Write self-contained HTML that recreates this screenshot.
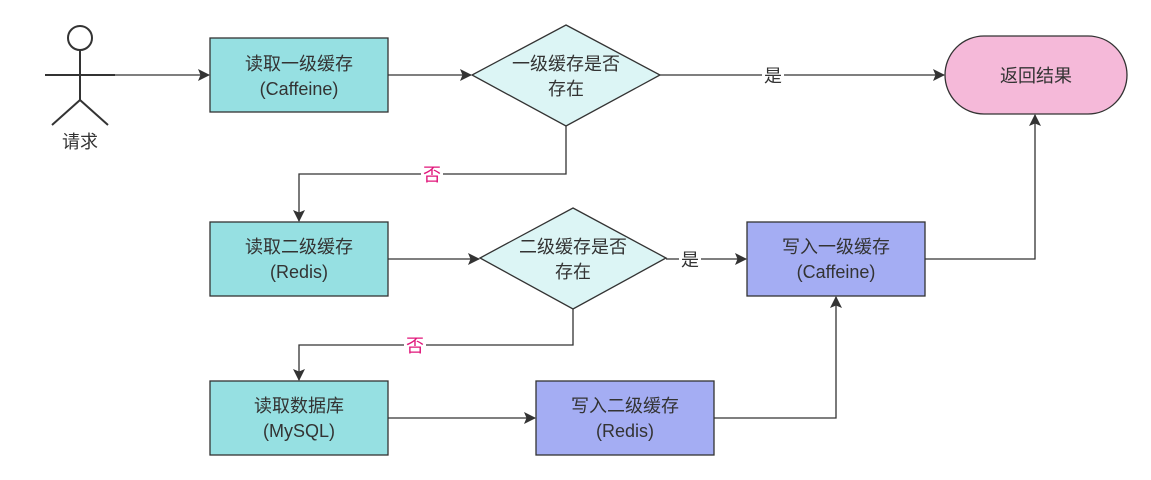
<!DOCTYPE html>
<html><head><meta charset="utf-8"><style>
html,body{margin:0;padding:0;background:#fff;}
svg{display:block;}
text{font-family:"Liberation Sans","Noto Sans CJK SC",sans-serif;font-size:18px;fill:#333;}
</style></head><body>
<svg width="1151" height="480" viewBox="0 0 1151 480" xmlns="http://www.w3.org/2000/svg">
<defs>
<marker id="a" markerWidth="12" markerHeight="12" refX="11" refY="6" orient="auto" markerUnits="userSpaceOnUse">
<path d="M0,0 L12,6 L0,12 L2.5,6 Z" fill="#333"/>
</marker>
</defs>
<g stroke="#333" stroke-width="2" fill="none">
<circle cx="80" cy="38" r="12"/>
<line x1="80" y1="50" x2="80" y2="100"/>
<line x1="45" y1="75" x2="115" y2="75"/>
<line x1="80" y1="100" x2="52" y2="125"/>
<line x1="80" y1="100" x2="108" y2="125"/>
</g>
<text x="80" y="148" text-anchor="middle">请求</text>

<g stroke="#333" stroke-width="1.3" fill="none" marker-end="url(#a)">
<path d="M115,75 H209"/>
<path d="M388,75 H471"/>
<path d="M660,75 H944"/>
<path d="M566,126 V174 H299 V221"/>
<path d="M388,259 H479"/>
<path d="M666,259 H746"/>
<path d="M925,259 H1035 V115"/>
<path d="M573,309 V345 H299 V380"/>
<path d="M388,418 H535"/>
<path d="M714,418 H836 V297"/>
</g>

<g stroke="#333" stroke-width="1.3">
<rect x="210" y="38" width="178" height="74" fill="#96e0e2"/>
<polygon points="566,25 660,75 566,126 472,75" fill="#dcf5f5"/>
<rect x="945" y="36" width="182" height="78" rx="39" fill="#f5b9d9"/>
<rect x="210" y="222" width="178" height="74" fill="#96e0e2"/>
<polygon points="573,208 666,258 573,309 480,258" fill="#dcf5f5"/>
<rect x="747" y="222" width="178" height="74" fill="#a4adf3"/>
<rect x="210" y="381" width="178" height="74" fill="#96e0e2"/>
<rect x="536" y="381" width="178" height="74" fill="#a4adf3"/>
</g>

<rect x="762" y="65" width="22" height="20" fill="#fff"/>
<text x="773" y="82" text-anchor="middle">是</text>
<rect x="679" y="249" width="22" height="20" fill="#fff"/>
<text x="690" y="266" text-anchor="middle">是</text>
<rect x="421" y="164" width="22" height="20" fill="#fff"/>
<text x="432" y="181" text-anchor="middle" style="fill:#e0157a">否</text>
<rect x="404" y="335" width="22" height="20" fill="#fff"/>
<text x="415" y="352" text-anchor="middle" style="fill:#e0157a">否</text>

<text x="299" y="70" text-anchor="middle">读取一级缓存</text>
<text x="299" y="95" text-anchor="middle">(Caffeine)</text>
<text x="566" y="70" text-anchor="middle">一级缓存是否</text>
<text x="566" y="95" text-anchor="middle">存在</text>
<text x="1036" y="82" text-anchor="middle">返回结果</text>
<text x="299" y="253" text-anchor="middle">读取二级缓存</text>
<text x="299" y="278" text-anchor="middle">(Redis)</text>
<text x="573" y="253" text-anchor="middle">二级缓存是否</text>
<text x="573" y="278" text-anchor="middle">存在</text>
<text x="836" y="253" text-anchor="middle">写入一级缓存</text>
<text x="836" y="278" text-anchor="middle">(Caffeine)</text>
<text x="299" y="412" text-anchor="middle">读取数据库</text>
<text x="299" y="437" text-anchor="middle">(MySQL)</text>
<text x="625" y="412" text-anchor="middle">写入二级缓存</text>
<text x="625" y="437" text-anchor="middle">(Redis)</text>
</svg>
</body></html>
